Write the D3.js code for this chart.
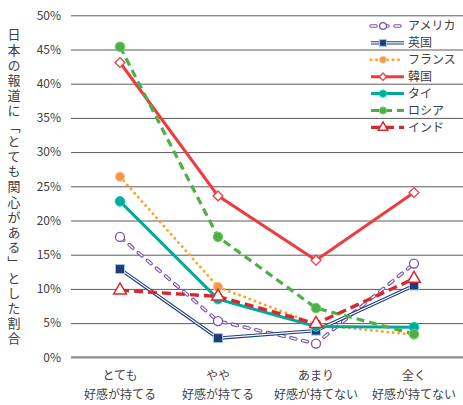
<!DOCTYPE html>
<html>
<head>
<meta charset="utf-8">
<script src="https://cdn.jsdelivr.net/npm/d3@7"></script>
<style>
  html, body { margin: 0; padding: 0; background: #fff; }
  svg { display: block; font-family: "Noto Sans CJK JP", "Noto Sans", sans-serif; }
</style>
</head>
<body>
<svg id="chart" width="463" height="405"></svg>
<script>
// Categories (two-line labels)
const categories = ["とても\n好感が持てる", "やや\n好感が持てる", "あまり\n好感が持てない", "全く\n好感が持てない"];
const yTicks = [0, 5, 10, 15, 20, 25, 30, 35, 40, 45, 50];

// Share (%) answering "very interested" in Japanese news, by impression of Japan
const usa    = [17.6, 5.3, 2.0, 13.7];
const uk     = [12.9, 2.8, 3.9, 10.5];
const france = [26.4, 10.3, 4.8, 3.3];
const korea  = [43.1, 23.6, 14.2, 24.1];
const thai   = [22.8, 8.5, 4.5, 4.4];
const russia = [45.4, 17.6, 7.2, 3.4];
const india  = [9.8, 8.9, 4.9, 11.5];

const seriesNames = ["アメリカ", "英国", "フランス", "韓国", "タイ", "ロシア", "インド"];
const seriesValues = [usa, uk, france, korea, thai, russia, india];

const styles = [
  { kind: "hollowDash", color: "#7b52ab", marker: "circleHollow" },
  { kind: "double", color: "#1f3b7a", marker: "square" },
  { kind: "dotted", color: "#f7a52b", marker: "circleOrange" },
  { kind: "solid", color: "#ee3b3f", marker: "diamond" },
  { kind: "solid", color: "#00aa9a", marker: "circleFilled" },
  { kind: "dashed", color: "#4fae48", marker: "circleFilled" },
  { kind: "dashedRed", color: "#d9272e", marker: "triangle" }
];

const svg = d3.select("#chart");
const plotLeft = 71, plotRight = 463, plotTop = 15.3, plotBottom = 357.3;

const x = d3.scalePoint().domain(categories).range([plotLeft, plotRight]).padding(0.5);
const y = d3.scaleLinear().domain([0, 50]).range([plotBottom, plotTop]);

// Gridlines
svg.append("g").selectAll("line").data(yTicks.filter(d => d > 0)).join("line")
  .attr("x1", plotLeft).attr("x2", plotRight)
  .attr("y1", d => y(d) + 0.5).attr("y2", d => y(d) + 0.5)
  .attr("stroke", "#5a5a5a").attr("stroke-width", 1);

// Baseline
svg.append("line").attr("x1", plotLeft).attr("x2", plotRight)
  .attr("y1", y(0)).attr("y2", y(0))
  .attr("stroke", "#8c8c8c").attr("stroke-width", 2.2);

// Y tick labels
svg.append("g").selectAll("text").data(yTicks).join("text")
  .attr("x", 61).attr("y", d => y(d)).attr("dy", "0.35em")
  .attr("text-anchor", "end").attr("font-size", 12).attr("fill", "#404040")
  .text(d => d + "%");

// Y axis title (vertical)
svg.append("text")
  .attr("x", 14).attr("y", 28)
  .attr("font-size", 13).attr("fill", "#404040")
  .style("writing-mode", "vertical-rl")
  .style("letter-spacing", "2.2px")
  .text("日本の報道に「とても関心がある」とした割合");

// X labels
const xl = svg.append("g").selectAll("text").data(categories).join("text")
  .attr("x", d => x(d)).attr("y", 380)
  .attr("text-anchor", "middle").attr("font-size", 12).attr("fill", "#404040");
xl.each(function(d) {
  const parts = d.split("\n");
  d3.select(this).selectAll("tspan").data(parts).join("tspan")
    .attr("x", x(d)).attr("dy", (p, i) => i === 0 ? 0 : 19).text(p => p);
});

const line = d3.line().x((v, i) => x(categories[i])).y(v => y(v));

function drawPath(g, pathD, st) {
  if (st.kind === "solid") {
    g.append("path").attr("d", pathD).attr("fill", "none").attr("stroke", st.color).attr("stroke-width", 3);
  } else if (st.kind === "double") {
    g.append("path").attr("d", pathD).attr("fill", "none").attr("stroke", st.color).attr("stroke-width", 3.4);
    g.append("path").attr("d", pathD).attr("fill", "none").attr("stroke", "#fff").attr("stroke-width", 1.2);
  } else if (st.kind === "hollowDash") {
    g.append("path").attr("d", pathD).attr("fill", "none").attr("stroke", st.color).attr("stroke-width", 3.6)
      .attr("stroke-dasharray", "5 7").attr("stroke-linecap", "round");
    g.append("path").attr("d", pathD).attr("fill", "none").attr("stroke", "#fff").attr("stroke-width", 1.4)
      .attr("stroke-dasharray", "5 7").attr("stroke-linecap", "round");
  } else if (st.kind === "dotted") {
    g.append("path").attr("d", pathD).attr("fill", "none").attr("stroke", st.color).attr("stroke-width", 3)
      .attr("stroke-dasharray", "0 5.5").attr("stroke-linecap", "round");
  } else if (st.kind === "dashed") {
    g.append("path").attr("d", pathD).attr("fill", "none").attr("stroke", st.color).attr("stroke-width", 3.2)
      .attr("stroke-dasharray", "8 5");
  } else if (st.kind === "dashedRed") {
    g.append("path").attr("d", pathD).attr("fill", "none").attr("stroke", st.color).attr("stroke-width", 3.4)
      .attr("stroke-dasharray", "9 5");
  }
}

function drawMarker(g, cx, cy, st, s = 1) {
  const m = st.marker;
  if (m === "circleHollow") {
    g.append("circle").attr("cx", cx).attr("cy", cy).attr("r", 4.5 * s)
      .attr("fill", "#fff").attr("stroke", st.color).attr("stroke-width", 1.3);
  } else if (m === "square") {
    g.append("rect").attr("x", cx - 4.5 * s).attr("y", cy - 4.5 * s).attr("width", 9 * s).attr("height", 9 * s)
      .attr("fill", st.color).attr("stroke", "#9cc3e6").attr("stroke-width", 1);
  } else if (m === "circleOrange") {
    g.append("circle").attr("cx", cx).attr("cy", cy).attr("r", 4.6 * s)
      .attr("fill", "#f79646").attr("stroke", "#fbc99c").attr("stroke-width", 1);
  } else if (m === "circleFilled") {
    g.append("circle").attr("cx", cx).attr("cy", cy).attr("r", 4.8 * s)
      .attr("fill", st.color).attr("stroke", d3.color(st.color).brighter(0.6)).attr("stroke-width", 1);
  } else if (m === "diamond") {
    g.append("path").attr("d", d3.symbol(d3.symbolSquare, 48 * s * s)())
      .attr("transform", `translate(${cx},${cy}) rotate(45)`)
      .attr("fill", "#fff").attr("stroke", st.color).attr("stroke-width", 1.3);
  } else if (m === "triangle") {
    g.append("path").attr("d", d3.symbol(d3.symbolTriangle, 70 * s * s)())
      .attr("transform", `translate(${cx},${cy})`)
      .attr("fill", "#fff").attr("stroke", st.color).attr("stroke-width", 1.5);
  }
}

// Series lines and markers
seriesValues.forEach((vals, si) => {
  const st = styles[si];
  const g = svg.append("g");
  drawPath(g, line(vals), st);
  vals.forEach((v, i) => drawMarker(g, x(categories[i]), y(v), st));
});

// Legend
const lg = svg.append("g");
seriesNames.forEach((name, i) => {
  const ly = 26 + i * 16.9;
  const st = styles[i];
  const g = lg.append("g");
  drawPath(g, `M371,${ly}L404,${ly}`, st);
  drawMarker(g, 383, ly, st, 0.75);
  g.append("text").attr("x", 408).attr("y", ly).attr("dy", "0.35em")
    .attr("font-size", 12).attr("fill", "#404040").text(name);
});
</script>
</body>
</html>
